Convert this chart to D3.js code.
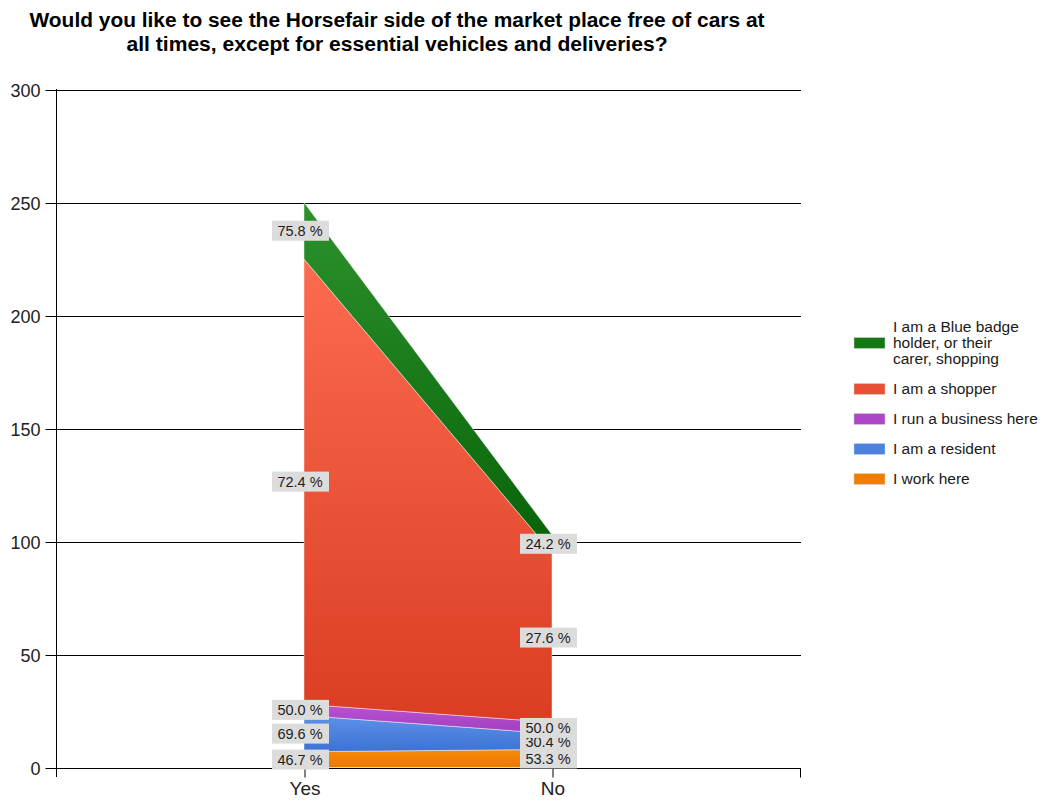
<!DOCTYPE html>
<html>
<head>
<meta charset="utf-8">
<script src="https://cdn.jsdelivr.net/npm/d3@7"></script>
<style>
  body { margin: 0; background: #fff; }
  svg text { font-family: "Liberation Sans", Arial, sans-serif; }
</style>
</head>
<body>
<script>
const categories = ['Yes', 'No'];

const workHere = [7, 8];
const resident = [16, 7];
const business = [5, 5];
const shopper = [197, 75];
const blueBadge = [25, 8];

const seriesNames = ['I work here', 'I am a resident', 'I run a business here',
                     'I am a shopper', 'I am a Blue badge holder, or their carer, shopping'];
const legendLines = [['I work here'], ['I am a resident'], ['I run a business here'],
                     ['I am a shopper'], ['I am a Blue badge', 'holder, or their', 'carer, shopping']];
const yTicks = [0, 50, 100, 150, 200, 250, 300];
const titleLines = ['Would you like to see the Horsefair side of the market place free of cars at',
                    'all times, except for essential vehicles and deliveries?'];

const gradients = [
  ['#f68b0c', '#ea7800'],
  ['#5d91e8', '#3d72d4'],
  ['#bb52d2', '#9f3fbf'],
  ['#fc6b50', '#da3d22'],
  ['#2c922c', '#086208']
];
const swatch = ['#ef7d00', '#4d82de', '#ad47c8', '#e94f35', '#137a13'];

const width = 1046, height = 800;
const plotLeft = 56, plotRight = 800, plotTop = 89.5, plotBottom = 767.5;

const svg = d3.select('body').append('svg')
  .attr('width', width)
  .attr('height', height);

const x = d3.scalePoint().domain(categories).range([plotLeft, plotRight]).padding(1);
const y = d3.scaleLinear().domain([0, 300]).range([plotBottom, plotTop]);

// title, the source font is a narrow one so squeeze it to the same width
const titleWidths = [735, 541];
svg.append('g').selectAll('text')
  .data(titleLines)
  .enter().append('text')
  .attr('x', 397)
  .attr('y', (d, i) => 27 + i * 24)
  .attr('text-anchor', 'middle')
  .attr('textLength', (d, i) => titleWidths[i])
  .attr('lengthAdjust', 'spacingAndGlyphs')
  .style('font-size', '20px')
  .style('font-weight', 'bold')
  .style('fill', '#000')
  .text((d) => d);

// gridlines
svg.append('g').selectAll('line')
  .data(yTicks)
  .enter().append('line')
  .attr('x1', plotLeft).attr('x2', plotRight + 1)
  .attr('y1', (d) => Math.round(y(d)) + 0.5)
  .attr('y2', (d) => Math.round(y(d)) + 0.5)
  .attr('stroke', '#000')
  .attr('stroke-width', 1);

// stacked areas
const table = categories.map((c, i) => ({
  cat: c, s0: workHere[i], s1: resident[i], s2: business[i], s3: shopper[i], s4: blueBadge[i]
}));
const keys = ['s0', 's1', 's2', 's3', 's4'];
const stacked = d3.stack().keys(keys)(table);

const defs = svg.append('defs');
gradients.forEach((g, i) => {
  const lg = defs.append('linearGradient')
    .attr('id', 'grad' + i)
    .attr('x1', 0).attr('y1', 0).attr('x2', 0).attr('y2', 1);
  lg.append('stop').attr('offset', '0%').attr('stop-color', g[0]);
  lg.append('stop').attr('offset', '100%').attr('stop-color', g[1]);
});

const area = d3.area()
  .x((d) => x(d.data.cat))
  .y0((d) => y(d[0]))
  .y1((d) => y(d[1]));

svg.append('g').selectAll('path')
  .data(stacked)
  .enter().append('path')
  .attr('d', area)
  .attr('fill', (d, i) => `url(#grad${i})`)
  .attr('stroke', '#ffffff')
  .attr('stroke-opacity', 0.45)
  .attr('stroke-width', 1);

// axes
const yAxis = d3.axisLeft(y).tickValues(yTicks).tickSize(11).tickPadding(5);
const gy = svg.append('g')
  .attr('transform', `translate(${plotLeft + 0.5},0.5)`)
  .call(yAxis);
gy.select('.domain').remove();
gy.append('line').attr('x1', 0).attr('x2', 0)
  .attr('y1', plotTop - 1).attr('y2', plotBottom + 9).attr('stroke', '#000');
gy.selectAll('text')
  .style('font-size', '18px')
  .style('fill', '#222')
  .attr('dy', '0.35em');

const xAxis = d3.axisBottom(x).tickSize(9).tickPadding(4);
const gx = svg.append('g')
  .attr('transform', `translate(0.5,${Math.round(plotBottom) + 0.5})`)
  .call(xAxis);
gx.select('.domain').remove();
gx.append('line').attr('x1', plotLeft).attr('x2', plotRight)
  .attr('y1', 0).attr('y2', 0).attr('stroke', '#000');
gx.append('line').attr('x1', plotRight).attr('x2', plotRight)
  .attr('y1', 0).attr('y2', 9).attr('stroke', '#000');
gx.selectAll('text')
  .style('font-size', '19px')
  .style('fill', '#222');

// data labels
const fmt = d3.format('.1f');
const totals = [workHere, resident, business, shopper, blueBadge].map((s) => d3.sum(s));
const labelOrder = [1, 0, 2, 3, 4];
const labels = [];
labelOrder.forEach((si) => {
  stacked[si].forEach((d) => {
    labels.push({
      cx: x(d.data.cat) - 4,
      cy: y((d[0] + d[1]) / 2),
      text: fmt((d[1] - d[0]) / totals[si] * 100) + ' %'
    });
  });
});

const lg = svg.append('g').selectAll('g')
  .data(labels)
  .enter().append('g')
  .attr('transform', (d) => `translate(${d.cx},${d.cy})`);
lg.append('rect')
  .attr('x', -28).attr('y', -10)
  .attr('width', 57).attr('height', 20)
  .attr('fill', '#dcdcdc');
lg.append('text')
  .attr('text-anchor', 'middle')
  .attr('dy', '0.36em')
  .style('font-size', '14.5px')
  .style('fill', '#1e1e1e')
  .text((d) => d.text);

// legend, top item is the last series
const legend = svg.append('g');
let ly = 327;
d3.range(seriesNames.length).reverse().forEach((i) => {
  const lines = legendLines[i];
  const mid = ly + (lines.length - 1) * 8;
  legend.append('rect')
    .attr('x', 854).attr('y', mid - 5.5)
    .attr('width', 31).attr('height', 11)
    .attr('fill', swatch[i])
    .attr('stroke', '#d8d8d8')
    .attr('stroke-width', 0.5);
  const t = legend.append('text')
    .attr('x', 893)
    .style('font-size', '15.5px')
    .style('fill', '#1a1a1a');
  t.selectAll('tspan')
    .data(lines)
    .enter().append('tspan')
    .attr('x', 893)
    .attr('y', (d, j) => ly + j * 16)
    .attr('dy', '0.35em')
    .text((d) => d);
  ly += (lines.length - 1) * 16 + 30;
});
</script>
</body>
</html>
